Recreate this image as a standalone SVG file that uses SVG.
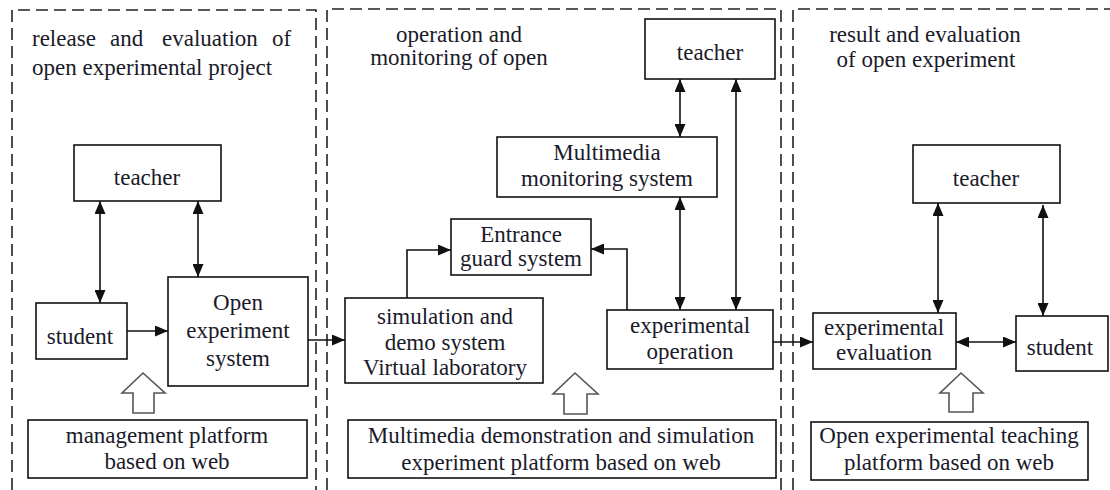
<svg xmlns="http://www.w3.org/2000/svg" width="1110" height="490" viewBox="0 0 1110 490">
<defs>
<style>
.box{fill:#fff;stroke:#111;stroke-width:1.6}
.panel{fill:none;stroke:#222;stroke-width:1.6;stroke-dasharray:12 6}
.conn{fill:none;stroke:#111;stroke-width:1.6}
.hollow{fill:#fff;stroke:#555;stroke-width:1.6}
.t{font-family:"Times New Roman",Tinos,"Liberation Serif",serif;font-size:23px;fill:#1a1a2a}
.c{text-anchor:middle}
</style>
<marker id="ah" viewBox="0 0 13 11" refX="13" refY="5.5" markerWidth="13" markerHeight="11" markerUnits="userSpaceOnUse" orient="auto-start-reverse">
<path d="M0,0 L13,5.5 L0,11 z" fill="#111"/>
</marker>
</defs>
<rect width="1110" height="490" fill="#fff"/>

<g id="panels">
<path class="panel" d="M12,490 V10 H316 V490"/>
<path class="panel" d="M327,490 V9 H781 V490"/>
<path class="panel" d="M793,490 V9 H1115"/>
</g>

<g id="headings">
<text class="t" y="46"><tspan x="32">release</tspan><tspan x="110">and</tspan><tspan x="162">evaluation</tspan><tspan x="272">of</tspan></text>
<text class="t" x="32" y="75">open experimental  project</text>
<text class="t c" x="459" y="42">operation and</text>
<text class="t c" x="459" y="65">monitoring of open</text>
<text class="t c" x="925" y="42">result and evaluation</text>
<text class="t c" x="926" y="67">of open experiment</text>
</g>

<g id="teacher1"><rect class="box" x="74" y="145" width="147" height="56"/><text class="t c" x="147" y="185">teacher</text></g>
<g id="student1"><rect class="box" x="36" y="303" width="91" height="56"/><text class="t c" x="80" y="344">student</text></g>
<g id="open-system"><rect class="box" x="168" y="277" width="140" height="109"/><text class="t c" x="238" y="310">Open</text><text class="t c" x="238" y="338">experiment</text><text class="t c" x="238" y="366">system</text></g>
<g id="management-platform"><rect class="box" x="28" y="420" width="279" height="58"/><text class="t c" x="167" y="443">management platform</text><text class="t c" x="167" y="469">based on web</text></g>

<g id="teacher2"><rect class="box" x="645" y="19" width="130" height="60"/><text class="t c" x="710" y="60">teacher</text></g>
<g id="multimedia-monitoring"><rect class="box" x="497" y="137" width="220" height="60"/><text class="t c" x="607" y="160">Multimedia</text><text class="t c" x="607" y="186">monitoring system</text></g>
<g id="entrance-guard"><rect class="box" x="451" y="219" width="140" height="56"/><text class="t c" x="521" y="242">Entrance</text><text class="t c" x="521" y="266">guard system</text></g>
<g id="simulation"><rect class="box" x="345" y="298" width="198" height="85"/><text class="t c" x="445" y="324">simulation and</text><text class="t c" x="445" y="350">demo system</text><text class="t c" x="445" y="375">Virtual laboratory</text></g>
<g id="experimental-operation"><rect class="box" x="607" y="310" width="166" height="59"/><text class="t c" x="690" y="333">experimental</text><text class="t c" x="690" y="359">operation</text></g>
<g id="multimedia-platform"><rect class="box" x="348" y="420" width="428" height="58"/><text class="t c" x="561" y="443">Multimedia demonstration  and simulation</text><text class="t c" x="561" y="470">experiment platform based on web</text></g>

<g id="teacher3"><rect class="box" x="913" y="145" width="147" height="58"/><text class="t c" x="986" y="186">teacher</text></g>
<g id="experimental-evaluation"><rect class="box" x="813" y="313" width="143" height="56"/><text class="t c" x="884" y="335">experimental</text><text class="t c" x="884" y="360">evaluation</text></g>
<g id="student3"><rect class="box" x="1016" y="316" width="92" height="55"/><text class="t c" x="1060" y="355">student</text></g>
<g id="teaching-platform"><rect class="box" x="811" y="422" width="277" height="58"/><text class="t c" x="949" y="443">Open experimental  teaching</text><text class="t c" x="949" y="470">platform based on web</text></g>

<g id="connectors">
<line class="conn" x1="100" y1="201" x2="100" y2="303" marker-start="url(#ah)" marker-end="url(#ah)"/>
<line class="conn" x1="198" y1="201" x2="198" y2="277" marker-start="url(#ah)" marker-end="url(#ah)"/>
<line class="conn" x1="127" y1="331" x2="168" y2="331" marker-end="url(#ah)"/>
<line class="conn" x1="308" y1="340" x2="345" y2="340" marker-end="url(#ah)"/>
<path class="conn" d="M407,298 V250 H451" marker-end="url(#ah)"/>
<path class="conn" d="M627,310 V249 H591" marker-end="url(#ah)"/>
<line class="conn" x1="680" y1="79" x2="680" y2="137" marker-start="url(#ah)" marker-end="url(#ah)"/>
<line class="conn" x1="680" y1="197" x2="680" y2="310" marker-start="url(#ah)" marker-end="url(#ah)"/>
<line class="conn" x1="736" y1="79" x2="736" y2="310" marker-start="url(#ah)" marker-end="url(#ah)"/>
<line class="conn" x1="773" y1="342" x2="813" y2="342" marker-end="url(#ah)"/>
<line class="conn" x1="938" y1="203" x2="938" y2="313" marker-start="url(#ah)" marker-end="url(#ah)"/>
<line class="conn" x1="1043" y1="205" x2="1043" y2="316" marker-start="url(#ah)" marker-end="url(#ah)"/>
<line class="conn" x1="956" y1="342" x2="1016" y2="342" marker-start="url(#ah)" marker-end="url(#ah)"/>
<polygon class="hollow" points="143,373 165,393 154,393 154,413 133,413 133,393 122,393"/>
<polygon class="hollow" points="575,373 598,394 587,394 587,414 564,414 564,394 553,394"/>
<polygon class="hollow" points="961,373 983,393 973,393 973,412 949,412 949,393 940,393"/>
</g>
</svg>
